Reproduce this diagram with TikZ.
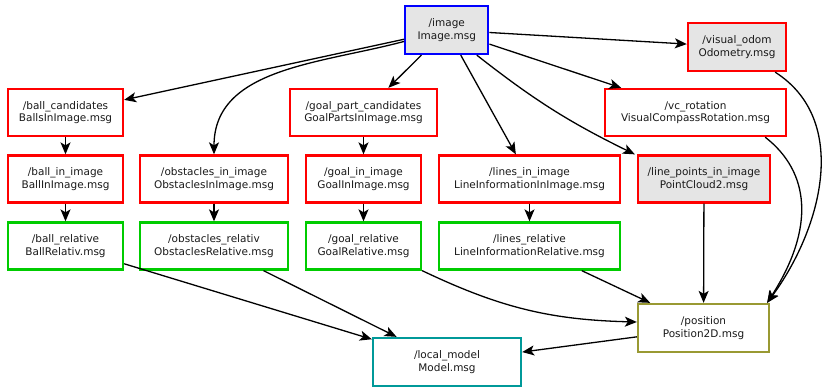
\documentclass[tikz,border=0pt]{standalone}
\usepackage{fontspec}
\setmainfont{DejaVu Sans}
\usepackage{tikz}
\usetikzlibrary{positioning}
\usetikzlibrary{arrows.meta}
\definecolor{topic_gray}{RGB}{229,229,229}
\definecolor{topic_green}{RGB}{0,204,0}
\definecolor{topic_olive}{RGB}{153,153,51}
\definecolor{topic_teal}{RGB}{0,153,153}
\tikzset{
  topic/.style={rectangle, draw, line width=2.3pt, align=center, minimum height=47pt, inner sep=2pt, text=black!90, font=\fontsize{10.5}{12.5}\selectfont},
  topic_red/.style={topic, draw=red},
  topic_red_gray/.style={topic, draw=red, fill=topic_gray},
  topic_blue/.style={topic, draw=blue, fill=topic_gray},
  topic_green/.style={topic, draw=topic_green},
  topic_olive/.style={topic, draw=topic_olive},
  topic_teal/.style={topic, draw=topic_teal},
  arrow_msg/.style={-{Stealth[length=12pt, width=10pt, inset=3pt]}, line width=1.3pt, color=black}}
\begin{document}
\begin{tikzpicture}[x=1pt, y=1pt]
\useasboundingbox (0,0) rectangle (824,-387);

\node[topic_blue, minimum width=83pt, minimum height=48pt] at (446.8,-30) (img) {/image\\Image.msg};
\node[topic_red_gray, minimum width=98pt, minimum height=48pt] at (737,-47) (odom) {/visual\_odom\\Odometry.msg};

\node[topic_red, minimum width=115pt] at (65.5,-112.5) (ball_cand) {/ball\_candidates\\BallsInImage.msg};
\node[topic_red, minimum width=147pt] at (363.5,-112.5) (goal_cand) {/goal\_part\_candidates\\GoalPartsInImage.msg};
\node[topic_red, minimum width=181pt] at (695.5,-112.5) (vc_rot) {/vc\_rotation\\VisualCompassRotation.msg};

\node[topic_red, minimum width=115pt] at (65.5,-179) (ball_img) {/ball\_in\_image\\BallInImage.msg};
\node[topic_red, minimum width=148pt] at (214,-179) (obs_img) {/obstacles\_in\_image\\ObstaclesInImage.msg};
\node[topic_red, minimum width=115pt] at (363.5,-179) (goal_img) {/goal\_in\_image\\GoalInImage.msg};
\node[topic_red, minimum width=181pt] at (529.5,-179) (lines_img) {/lines\_in\_image\\LineInformationInImage.msg};
\node[topic_red_gray, minimum width=132pt] at (704,-179) (line_pts) {/line\_points\_in\_image\\PointCloud2.msg};

\node[topic_green, minimum width=115pt] at (65.5,-246) (ball_rel) {/ball\_relative\\BallRelativ.msg};
\node[topic_green, minimum width=148pt] at (214,-246) (obs_rel) {/obstacles\_relativ\\ObstaclesRelative.msg};
\node[topic_green, minimum width=115pt] at (363.5,-246) (goal_rel) {/goal\_relative\\GoalRelative.msg};
\node[topic_green, minimum width=181pt] at (529.5,-246) (lines_rel) {/lines\_relative\\LineInformationRelative.msg};

\node[topic_olive, minimum width=131pt, minimum height=48pt] at (703.5,-328) (pos) {/position\\Position2D.msg};
\node[topic_teal, minimum width=148pt, minimum height=48pt] at (447,-362) (model) {/local\_model\\Model.msg};

%% Graph
\draw[arrow_msg] (img) -- (ball_cand);
\draw[arrow_msg] (img) to[out=195, in=90] (obs_img);
\draw[arrow_msg] (img) -- (goal_cand);
\draw[arrow_msg] (img) -- (lines_img);
\draw[arrow_msg] ([xshift=30pt]img.south) to[bend right=6] ([xshift=-2pt]line_pts.north west);
\draw[arrow_msg] (img) -- (vc_rot);
\draw[arrow_msg] (img) -- (odom);

\draw[arrow_msg] (ball_cand) -- (ball_img);
\draw[arrow_msg] (ball_img) -- (ball_rel);
\draw[arrow_msg] (obs_img) -- (obs_rel);
\draw[arrow_msg] (goal_cand) -- (goal_img);
\draw[arrow_msg] (goal_img) -- (goal_rel);
\draw[arrow_msg] (lines_img) -- (lines_rel);

\draw[arrow_msg] (ball_rel) -- (model);
\draw[arrow_msg] (obs_rel) -- (model);
\draw[arrow_msg] (goal_rel.south east) to[bend right=12] ([yshift=6pt]pos.west);
\draw[arrow_msg] (lines_rel) -- (pos);
\draw[arrow_msg] (line_pts) -- (pos);
\draw[arrow_msg] ([xshift=-22pt]vc_rot.south east) .. controls +(45,-35) and +(48,75) .. ([xshift=-3pt]pos.north east);
\draw[arrow_msg] ([xshift=-12pt]odom.south east) .. controls +(75,-48) and +(55,75) .. ([xshift=-3pt]pos.north east);
\draw[arrow_msg] (pos) -- (model);

    \end{tikzpicture}
\end{document}
